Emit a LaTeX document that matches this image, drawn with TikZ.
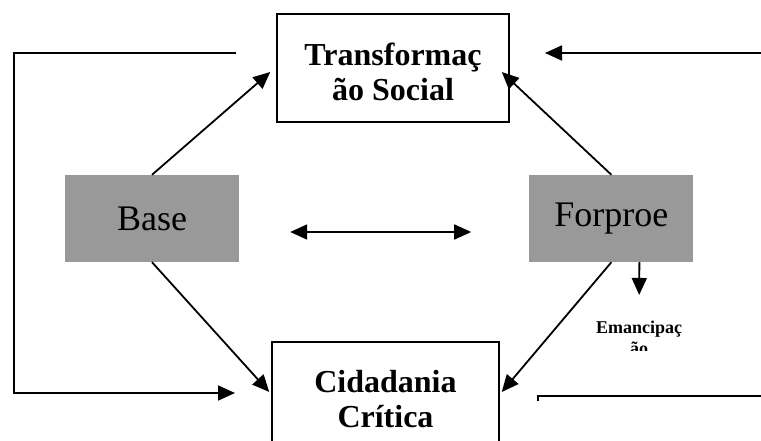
\documentclass[tikz,border=0pt]{standalone}
\usepackage{fontspec}
\setmainfont{Liberation Serif}
\usepackage{tikz}
\usetikzlibrary{positioning, arrows.meta}
\definecolor{boxgray}{RGB}{153,153,153}

\begin{document}
\begin{tikzpicture}[x=1pt, y=-1pt,
  graybox/.style={rectangle, fill=boxgray, minimum height=87pt, inner sep=0pt, font=\fontsize{36}{40}\selectfont},
  outbox/.style={rectangle, draw, line width=1.5pt, inner sep=0pt, align=center, font=\fontsize{32}{35}\selectfont\bfseries},
  arr/.style={line width=1.8pt, -{Triangle[length=17pt, width=15pt]}},
  dblarr/.style={line width=1.8pt, {Triangle[length=17pt, width=15pt]}-{Triangle[length=17pt, width=15pt]}},
  plainline/.style={line width=1.8pt}
]
\useasboundingbox (0,0) rectangle (761,441);
\clip (0,0) rectangle (761,441);
\node[graybox, minimum width=174pt] (base) at (152,218.5) {Base};
\node[graybox, minimum width=164pt, right=290pt of base] (forproe) {Forproe};
\node[outbox, minimum width=232pt, minimum height=108pt] (trans) at (393,68) {\rule{0pt}{30pt}Transformaç\\ão Social};
\node[outbox, minimum width=227pt, minimum height=114pt] (cid) at (385.5,399) {Cidadania\\Crítica};
\begin{scope}
  \clip (560,300) rectangle (720,350);
  \node[font=\fontsize{18}{21}\selectfont\bfseries, align=center, inner sep=0pt] (emanc) at (639,338) {Emancipaç\\ão};
\end{scope}

\coordinate (loopstart) at (236,53);
\coordinate (loopend) at (235,393);
\coordinate (leftedge) at (14,0);
\coordinate (rightstart) at (770,53);
\coordinate (rightend) at (545,53);
\coordinate (rbstart) at (538,401);
\coordinate (rbend) at (770,396);

\draw[arr] (base.north) -- ([xshift=-6pt, yshift=-4pt]trans.west);
\draw[arr] (forproe.north) -- ([xshift=-8pt, yshift=-4pt]trans.east);
\draw[arr] (base.south) -- ([xshift=-2pt, yshift=7pt]cid.west);
\draw[arr] (forproe.south) -- ([xshift=2pt, yshift=7pt]cid.east);
\draw[dblarr, shorten <=51pt, shorten >=58pt] ([yshift=-13.5pt]base.east) -- ([yshift=-13.5pt]forproe.west);
\draw[arr, shorten >=26pt] ([xshift=28pt]forproe.south) -- (emanc.north);
\draw[arr] (loopstart) -| (leftedge |- loopend) -- (loopend);
\draw[arr] (rightstart) -- (rightend);
\draw[plainline] (rbstart) |- (rbend);
\end{tikzpicture}
\end{document}
